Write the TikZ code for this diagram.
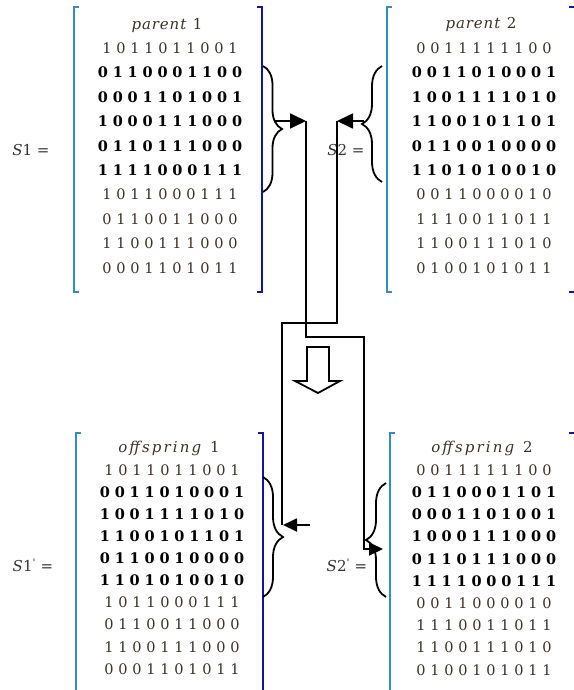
\documentclass[tikz,border=0pt]{standalone}
\usepackage{fontspec}
\setmainfont{DejaVu Serif}
\usetikzlibrary{arrows.meta,decorations.pathreplacing}
\definecolor{regc}{RGB}{60,50,40}
\definecolor{lbr}{RGB}{50,140,200}
\definecolor{rbr}{RGB}{20,20,160}
\newlength\bitw
\newcommand\bitrow[1]{\edef\bittmp{#1}\expandafter\bitloop\bittmp\relax}
\def\bitloop#1{\ifx#1\relax\else\makebox[\bitw]{#1}\expandafter\bitloop\fi}
\newcommand\matrows[5]{%
  \foreach \rw [count=\i] in {#5}{%
    \ifnum\i>1 \ifnum\i<7 \def\rowfont{\bfseries\color{black}\setlength\bitw{14.9pt}}\else\def\rowfont{\color{regc}\setlength\bitw{14pt}}\fi\else\def\rowfont{\color{regc}\setlength\bitw{14pt}}\fi
    \node[bit] (#1-\i) at (#2,{#3+(\i-1)*#4}) {\rowfont\bitrow{\rw}};
  }}
\tikzset{
  bit/.style={inner sep=0pt,anchor=center,font=\fontsize{14.5}{17}\selectfont},
  hdr/.style={inner sep=0pt,anchor=center,text=regc,font=\fontsize{15}{18}\selectfont\addfontfeature{LetterSpace=#1}},
  lab/.style={inner sep=0pt,anchor=center,text=black!80,font=\fontsize{15}{18}\selectfont},
  lbrk/.style={draw=lbr,line width=1.5pt},
  rbrk/.style={draw=rbr,line width=1.5pt},
  brc/.style={draw=black,line width=1.8pt,decorate,decoration={brace,amplitude=#1}},
  conn/.style={draw=black,line width=1.8pt},
  arr/.style={conn,-{Triangle[length=16pt,width=15pt]}},
  arrs/.style={conn,-{Triangle[length=14pt,width=13pt]}}
}
\begin{document}
\begin{tikzpicture}[x=1pt,y=-1pt]
\useasboundingbox (0,0) rectangle (573,690);
% headers
\node[hdr=6] (h1) at (167,25) {\textit{parent} 1};
\node[hdr=6] (h2) at (481,24) {\textit{parent} 2};
\node[hdr=14] (h3) at (169,448) {\textit{offspring} 1};
\node[hdr=14] (h4) at (482,448) {\textit{offspring} 2};
% rows
\matrows{sa}{170}{48}{24.44}{1011011001,0110001100,0001101001,1000111000,0110111000,1111000111,1011000111,0110011000,1100111000,0001101011}
\matrows{sb}{484}{48}{24.44}{0011111100,0011010001,1001111010,1100101101,0110010000,1101010010,0011000010,1110011011,1100111010,0100101011}
\matrows{sc}{172}{470}{22.1}{1011011001,0011010001,1001111010,1100101101,0110010000,1101010010,1011000111,0110011000,1100111000,0001101011}
\matrows{sd}{484}{470}{22.2}{0011111100,0110001101,0001101001,1000111000,0110111000,1111000111,0011000010,1110011011,1100111010,0100101011}
% labels
\node[lab] (l1) at (31,150) {\textit{S}1 =};
\node[lab] (l2) at (346,150) {\textit{S}2 =};
\node[lab] (l3) at (33,565) {\textit{S}1\textsuperscript{\textquotesingle} =};
\node[lab] (l4) at (347,565) {\textit{S}2\textsuperscript{\textquotesingle} =};
% brackets
\draw[lbrk] (79,7) -- (74,7) -- (74,292) -- (79,292);
\draw[rbrk] (257,7) -- (262,7) -- (262,292) -- (257,292);
\draw[lbrk] (392,7) -- (387,7) -- (387,292) -- (392,292);
\draw[rbrk] (569,7) -- (575,7) -- (575,292) -- (569,292);
\draw[lbrk] (81,433) -- (76,433) -- (76,695);
\draw[rbrk] (258,433) -- (263,433) -- (263,695);
\draw[lbrk] (395,433) -- (390,433) -- (390,695);
\draw[rbrk] (569,433) -- (575,433) -- (575,695);
% braces
\draw[brc=19pt] (263,66) -- (263,192);
\draw[brc=20pt] (382,182) -- (382,66);
\draw[brc=20pt] (263,477) -- (263,597);
\draw[brc=20pt] (386,597) -- (386,483);
% connectors
\coordinate (a1s) at (274,121);
\coordinate (a1e) at (306,121);
\coordinate (a1b) at (306,337);
\coordinate (a1c) at (364,337);
\coordinate (a1d) at (364,549);
\coordinate (a1t) at (383,549);
\coordinate (a2s) at (364,121);
\coordinate (a2e) at (337,121);
\coordinate (a2b) at (337,323);
\coordinate (a2c) at (282,323);
\coordinate (a2d) at (282,525);
\coordinate (a3s) at (310,525);
\coordinate (a3t) at (283,525);
\draw[arr] (a1s) -- (a1e);
\draw[arr] (a2s) -- (a2e);
\draw[conn] (a2e) -- (a2b) -- (a2c) -- (a2d);
\draw[arrs] (a1e) -- (a1b) -- (a1c) -- (a1d) -- (a1t);
\draw[arrs] (a3s) -- (a3t);
% hollow arrow
\draw[line width=1.8pt,fill=white,line join=miter] (307,347) -- (329,347) -- (329,381) -- (340,381) -- (318,393) -- (295,381) -- (307,381) -- cycle;
\end{tikzpicture}
\end{document}
